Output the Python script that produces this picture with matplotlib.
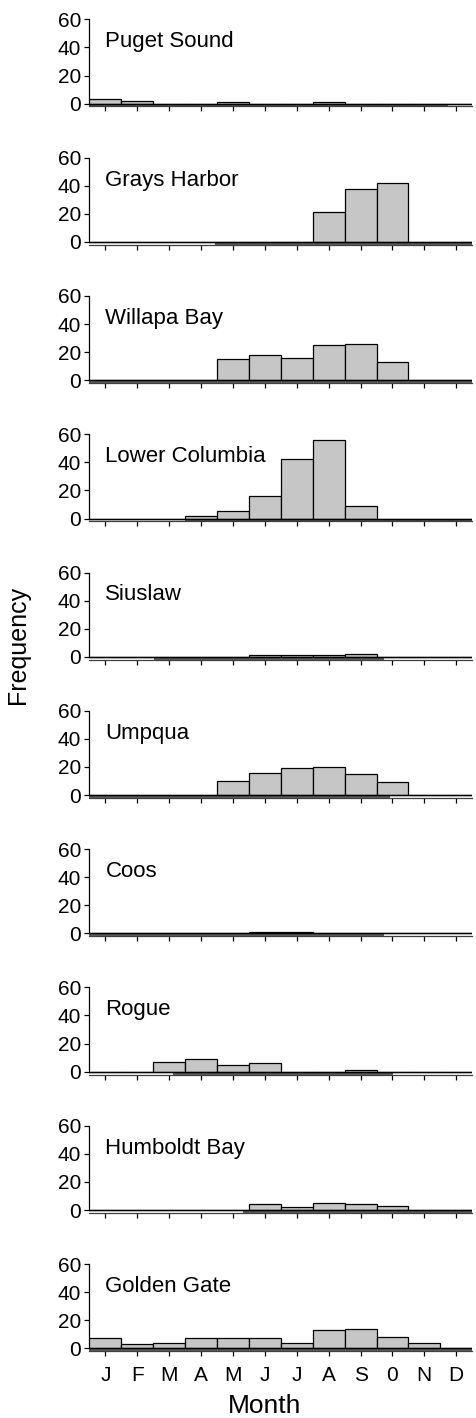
import matplotlib
matplotlib.use("Agg")
import matplotlib.pyplot as plt
from matplotlib.patches import Rectangle

plt.rcParams['font.family'] = ['Liberation Sans', 'DejaVu Sans']

months = ['J', 'F', 'M', 'A', 'M', 'J', 'J', 'A', 'S', '0', 'N', 'D']
sites = ['Puget Sound', 'Grays Harbor', 'Willapa Bay', 'Lower Columbia', 'Siuslaw',
         'Umpqua', 'Coos', 'Rogue', 'Humboldt Bay', 'Golden Gate']

puget_sound = [3, 2, 0, 0, 1, 0, 0, 1, 0, 0, 0, 0]
grays_harbor = [0, 0, 0, 0, 0, 0, 0, 21, 38, 42, 0, 0]
willapa_bay = [0, 0, 0, 0, 15, 18, 16, 25, 26, 13, 0, 0]
lower_columbia = [0, 0, 0, 2, 5, 16, 42, 56, 9, 0, 0, 0]
siuslaw = [0, 0, 0, 0, 0, 1, 1, 1, 2, 0, 0, 0]
umpqua = [0, 0, 0, 0, 10, 16, 19, 20, 15, 9, 0, 0]
coos = [0, 0, 0, 0, 0, 1, 1, 0, 0, 0, 0, 0]
rogue = [0, 0, 7, 9, 5, 6, 0, 0, 1, 0, 0, 0]
humboldt_bay = [0, 0, 0, 0, 0, 4, 2, 5, 4, 3, 0, 0]
golden_gate = [7, 3, 4, 7, 7, 7, 4, 13, 14, 8, 4, 0]

counts = [puget_sound, grays_harbor, willapa_bay, lower_columbia, siuslaw,
          umpqua, coos, rogue, humboldt_bay, golden_gate]

# month spans (start, end) of the shaded zero-record strip under each baseline
zero_strip_start = [-0.5, 3.43, -0.5, 2.5, 1.53, -0.5, -0.5, 2.13, 4.32, -0.5]
zero_strip_end = [10.75, 11.5, 11.5, 11.5, 8.73, 8.92, 8.73, 9.02, 11.5, 11.5]

W, H = 477, 1418
fig = plt.figure(figsize=(W / 100, H / 100), dpi=100)

left_px, right_px = 89.5, 472.2
top0_px, step_px = 19.3, 138.3
px_per_unit = 1.405
ymin, ymax = -2.0, 60.0
ax_h_px = (ymax - ymin) * px_per_unit

bar_color = '#c6c6c6'
strip_color = '#5e5e5e'
tick_fs = 15
title_fs = 16

axes = []
for i, (site, vals) in enumerate(zip(sites, counts)):
    top_px = top0_px + step_px * i
    bottom_px = top_px + ax_h_px
    ax = fig.add_axes([left_px / W, 1 - bottom_px / H, (right_px - left_px) / W, ax_h_px / H])
    x = list(range(12))
    ax.bar(x, vals, width=1.0, color=bar_color, edgecolor='black', linewidth=0.9, zorder=3)
    ax.add_patch(Rectangle((zero_strip_start[i], ymin),
                           zero_strip_end[i] - zero_strip_start[i], -ymin,
                           facecolor=strip_color, edgecolor='none', zorder=2))
    ax.axhline(0, color='black', linewidth=1.0, zorder=4)
    ax.set_xlim(-0.5, 11.5)
    ax.set_ylim(ymin, ymax)
    ax.set_yticks([0, 20, 40, 60])
    ax.set_xticks(x)
    ax.spines['top'].set_visible(False)
    ax.spines['right'].set_visible(False)
    ax.spines['left'].set_bounds(0, 60)
    ax.spines['left'].set_linewidth(0.9)
    ax.spines['bottom'].set_linewidth(0.9)
    ax.spines['bottom'].set_color('#404040')
    ax.tick_params(axis='both', direction='out', length=3.5, width=0.9, labelsize=tick_fs, pad=2)
    ax.tick_params(axis='y', pad=2.5)
    if i == len(sites) - 1:
        ax.set_xticklabels(months, fontsize=tick_fs)
        ax.tick_params(axis='x', pad=7)
    else:
        ax.set_xticklabels([])
    ax.text(0, 44, site, fontsize=title_fs, ha='left', va='center')
    ax.set_facecolor('none')
    axes.append(ax)

fig.text(265 / W, 1 - 1406 / H, 'Month', fontsize=19, ha='center', va='center')
fig.text(18 / W, 1 - 645 / H, 'Frequency', fontsize=18, ha='center', va='center', rotation=90)

fig.savefig('out.png', dpi=100, facecolor='white')
